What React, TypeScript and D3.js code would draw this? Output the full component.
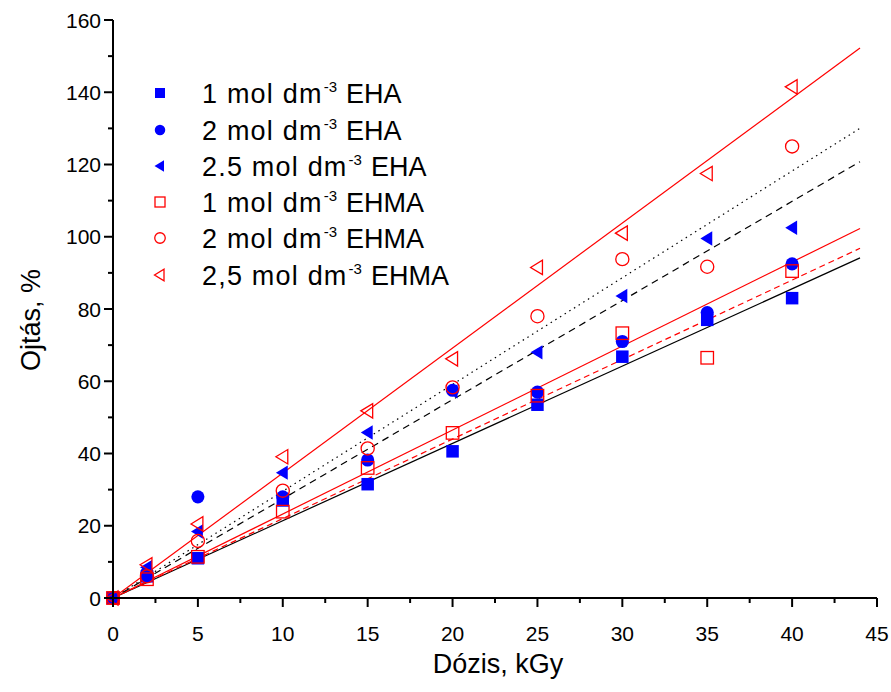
import React from "react";
import * as d3 from "d3";

const doses = [0, 2, 5, 10, 15, 20, 25, 30, 35, 40];
const eha1 = [0, 6, 11, 27, 31.5, 40.6, 53.5, 66.8, 77, 83];
const eha2 = [0, 7, 28, 28, 38.2, 57.5, 57, 71, 79, 92.5];
const eha25 = [0, 8.5, 18.4, 34.7, 45.8, 57.2, 68, 83.6, 99.5, 102.5];
const ehma1 = [0, 5.2, 11.4, 23.9, 36, 45.7, 56, 73.3, 66.5, 90.5];
const ehma2 = [0, 6, 15.8, 29.7, 41.4, 58.3, 78, 93.8, 91.7, 125];
const ehma25 = [0, 9.2, 20.5, 39.1, 51.8, 66.2, 91.5, 101, 117.5, 141.5];

const seriesNames = ["1 mol dm", "2 mol dm", "2.5 mol dm", "1 mol dm", "2 mol dm", "2,5 mol dm"];
const seriesSuffix = ["EHA", "EHA", "EHA", "EHMA", "EHMA", "EHMA"];

// fitted slopes (through origin), drawn from 0 to fitEnd
const fitSlopes = [2.14, 2.2, 2.325, 2.745, 2.955, 3.46];
const fitColors = ["#000", "#ff0000", "#ff0000", "#000", "#000", "#ff0000"];
const fitDash = ["", "6,4", "", "7,5", "1.5,4", ""];
const fitEnd = 44;

const xTicks = [0, 5, 10, 15, 20, 25, 30, 35, 40, 45];
const yTicks = [0, 20, 40, 60, 80, 100, 120, 140, 160];

const BLUE = "#0000ff";
const RED = "#ff0000";

function Marker({ kind, x, y, s }: { kind: number; x: number; y: number; s: number }) {
  const h = s / 2;
  switch (kind) {
    case 0:
      return <rect x={x - h} y={y - h} width={s} height={s} fill={BLUE} />;
    case 1:
      return <circle cx={x} cy={y} r={h * 1.05} fill={BLUE} />;
    case 2:
      return <path d={`M${x - h * 1.1},${y}L${x + h * 0.8},${y - h * 1.15}L${x + h * 0.8},${y + h * 1.15}Z`} fill={BLUE} />;
    case 3:
      return <rect x={x - h} y={y - h} width={s} height={s} fill="none" stroke={RED} strokeWidth={1.3} />;
    case 4:
      return <circle cx={x} cy={y} r={h * 1.05} fill="none" stroke={RED} strokeWidth={1.3} />;
    default:
      return <path d={`M${x - h * 1.1},${y}L${x + h * 0.8},${y - h * 1.15}L${x + h * 0.8},${y + h * 1.15}Z`} fill="none" stroke={RED} strokeWidth={1.3} />;
  }
}

export default function App() {
  const W = 891, H = 692;
  const x = d3.scaleLinear().domain([0, 45]).range([113, 877]);
  const y = d3.scaleLinear().domain([0, 160]).range([598, 20]);
  const series = [eha1, eha2, eha25, ehma1, ehma2, ehma25];
  const font = "'Liberation Sans', Arial, sans-serif";
  const xMinor = d3.range(0, 45.01, 2.5);
  const yMinor = d3.range(0, 160.01, 10);
  const legendY = [93, 130, 166, 202, 238, 275];

  return (
    <svg width={W} height={H} style={{ position: "absolute", left: 0, top: 0, background: "#fff" }} fontFamily={font}>
      <rect width={W} height={H} fill="#fff" />
      {/* fit lines */}
      {fitSlopes.map((k, i) => (
        <line key={"f" + i} x1={x(0)} y1={y(0)} x2={x(fitEnd)} y2={y(k * fitEnd)}
          stroke={fitColors[i]} strokeWidth={1.2} strokeDasharray={fitDash[i] || undefined} />
      ))}
      {/* points */}
      {series.map((vals, si) => (
        <g key={"s" + si}>
          {vals.map((v, j) => (
            <Marker key={j} kind={si} x={x(doses[j])} y={y(v)} s={12.5} />
          ))}
        </g>
      ))}
      {/* axes */}
      <line x1={x(0)} y1={y(0)} x2={x(45)} y2={y(0)} stroke="#000" strokeWidth={2} />
      <line x1={x(0)} y1={y(0)} x2={x(0)} y2={y(160)} stroke="#000" strokeWidth={2} />
      {xMinor.map((t) => (
        <line key={"xm" + t} x1={x(t)} x2={x(t)} y1={y(0)} y2={y(0) + (t % 5 === 0 ? 9 : 5)} stroke="#000" strokeWidth={2} />
      ))}
      {yMinor.map((t) => (
        <line key={"ym" + t} x1={x(0)} x2={x(0) - (t % 20 === 0 ? 9 : 5)} y1={y(t)} y2={y(t)} stroke="#000" strokeWidth={2} />
      ))}
      {xTicks.map((t) => (
        <text key={"xt" + t} x={x(t)} y={y(0) + 43} textAnchor="middle" fontSize={21}>{t}</text>
      ))}
      {yTicks.map((t) => (
        <text key={"yt" + t} x={x(0) - 12} y={y(t) + 7.5} textAnchor="end" fontSize={21}>{t}</text>
      ))}
      <text x={498} y={673} textAnchor="middle" fontSize={27}>Dózis, kGy</text>
      <text transform={`translate(40,320) rotate(-90)`} textAnchor="middle" fontSize={27}>Ojtás, %</text>
      {/* legend */}
      {seriesNames.map((n, i) => (
        <g key={"l" + i}>
          <Marker kind={i} x={160} y={legendY[i]} s={10} />
          <text x={202} y={legendY[i] + 9.7} fontSize={27}>
            <tspan letterSpacing={1.2}>{n}</tspan>
            <tspan dx={1} dy={-11} fontSize={15}>-3</tspan>
            <tspan dx={9} dy={11}>{seriesSuffix[i]}</tspan>
          </text>
        </g>
      ))}
    </svg>
  );
}
